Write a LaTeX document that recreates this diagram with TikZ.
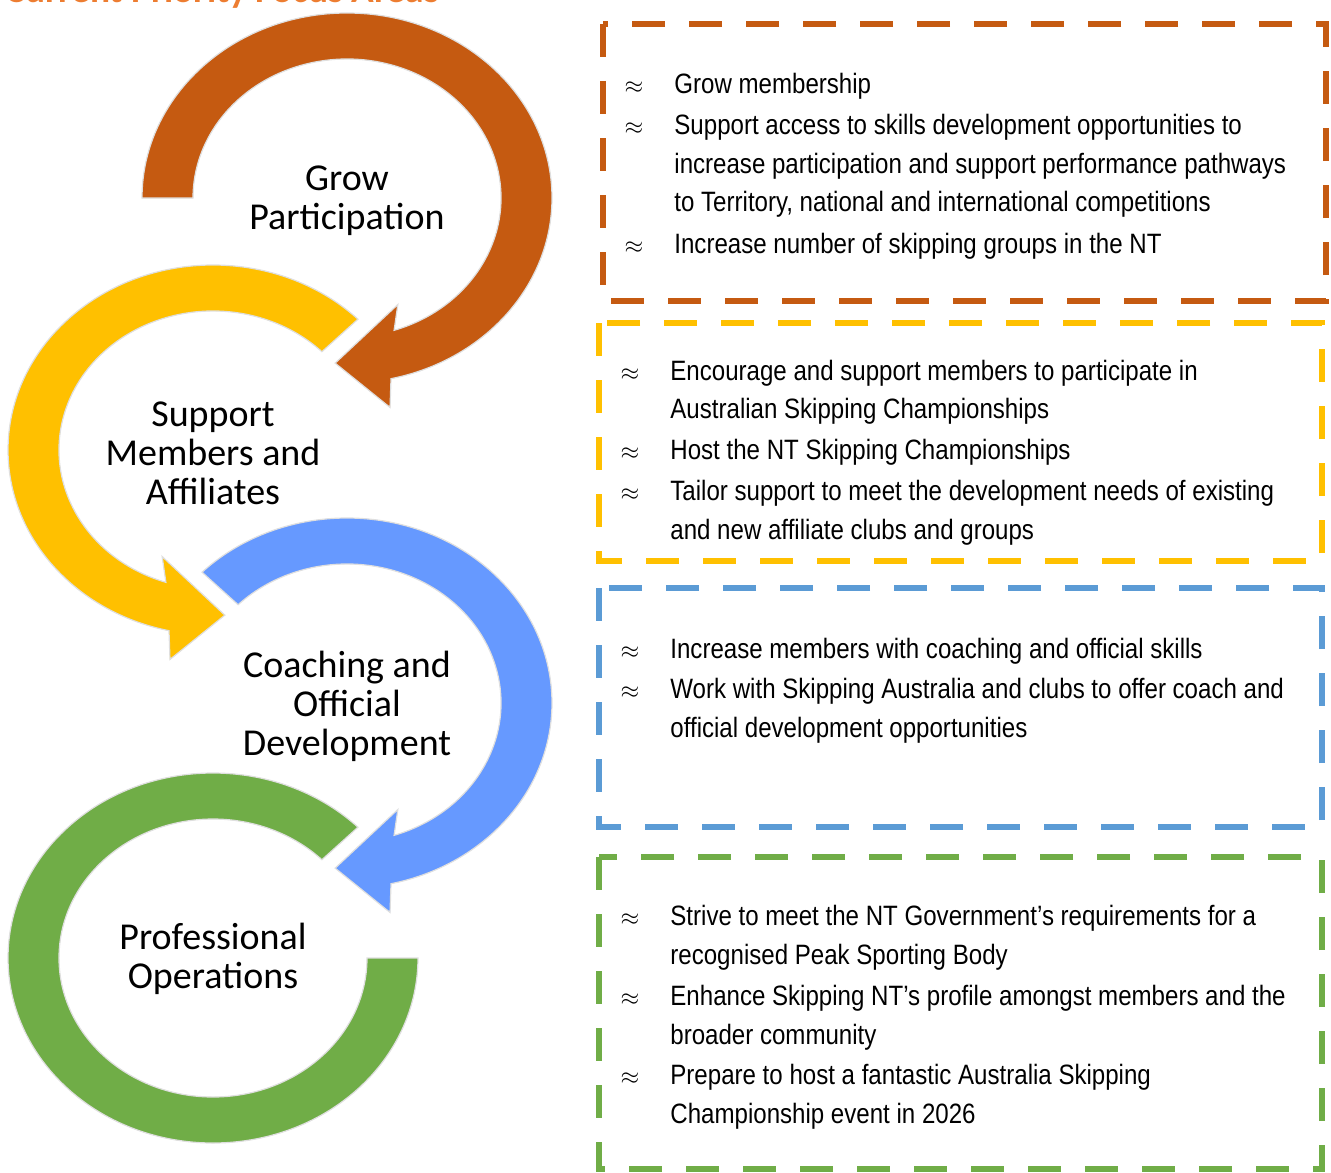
\documentclass[tikz,border=0pt]{standalone}
\usepackage{fontspec}
\setmainfont{Carlito}
\newfontfamily\narrow[FakeStretch=0.86]{Liberation Sans}

\definecolor{growclr}{HTML}{C55A11}
\definecolor{supportclr}{HTML}{FFC000}
\definecolor{coachclr}{HTML}{6699FF}
\definecolor{coachbox}{HTML}{5B9BD5}
\definecolor{opsclr}{HTML}{70AD47}
\definecolor{titleclr}{HTML}{ED7D31}

\begin{document}
\begin{tikzpicture}[x=0.5pt, y=0.5pt,
  ring/.style={draw=gray!25, line width=0.6pt},
  area/.style={line width=3pt, dash pattern=on 16.5pt off 12pt},
  focus/.style={font=\fontsize{19}{19.5}\selectfont, align=center},
  item/.style={font=\narrow\fontsize{14}{19.5}\selectfont, anchor=base west, inner sep=0},
  bul/.style={font=\fontsize{12.5}{14}\selectfont, anchor=base, inner sep=0}]
  \useasboundingbox (0,0) rectangle (1331,-1172);

  \node[font=\bfseries\fontsize{18.7}{20}\selectfont, text=titleclr, anchor=base west, inner sep=0] (title) at (5,-3) {Current Priority Focus Areas};

  % circular arrows
  \begin{scope}[shift={(213,-450)}, xscale=1.108]
    \fill[supportclr, ring] (45:185) arc[start angle=45, end angle=257.6, radius=185]
      -- (259.5:213) -- (273.7:165.5) -- (246.7:116) -- (252.2:139)
      arc[start angle=252.2, end angle=45, radius=139] -- cycle;
  \end{scope}
  \begin{scope}[shift={(347,-198)}, xscale=1.108]
    \fill[growclr, ring] (180:185) arc[start angle=180, end angle=-77.6, radius=185]
      -- (-79.5:213) -- (-93.7:165.5) -- (-66.7:116) -- (-72.2:139)
      arc[start angle=-72.2, end angle=180, radius=139] -- cycle;
  \end{scope}
  \begin{scope}[shift={(213,-958)}, xscale=1.108]
    \fill[opsclr, ring] (45:185) arc[start angle=45, end angle=360, radius=185]
      -- (0:139) arc[start angle=360, end angle=45, radius=139] -- cycle;
  \end{scope}
  \begin{scope}[shift={(347,-703)}, xscale=1.108]
    \fill[coachclr, ring] (135:185) arc[start angle=135, end angle=-77.6, radius=185]
      -- (-79.5:213) -- (-93.7:165.5) -- (-66.7:116) -- (-72.2:139)
      arc[start angle=-72.2, end angle=135, radius=139] -- cycle;
  \end{scope}

  \node[focus] (grow) at (347,-201) {Grow\\Participation};
  \node[focus] (support) at (213,-453) {Support\\Members and\\Affiliates};
  \node[focus] (coach) at (347,-706) {Coaching and\\Official\\Development};
  \node[focus] (ops) at (213,-959) {Professional\\Operations};

  % dashed boxes
  \draw[area, growclr] (603,-24) rectangle (1326,-301);
  \draw[area, supportclr] (599,-323) rectangle (1322,-561);
  \draw[area, coachbox] (599,-588) rectangle (1322,-827);
  \draw[area, opsclr] (599,-857) rectangle (1322,-1169);

  % box texts
  \foreach \y/\t in {94/Grow membership,
      134/Support access to skills development opportunities to,
      173/increase participation and support performance pathways,
      211/{to Territory, national and international competitions},
      253/Increase number of skipping groups in the NT}
    \node[item] (grow-\y) at (674,-\y) {\t};
  \foreach \y in {94,134,253}
    \node[bul] (growb-\y) at (634,-\y) {$\approx$};

  \foreach \y/\t in {380/Encourage and support members to participate in,
      418/Australian Skipping Championships,
      459/Host the NT Skipping Championships,
      500/Tailor support to meet the development needs of existing,
      539/and new affiliate clubs and groups}
    \node[item] (support-\y) at (670,-\y) {\t};
  \foreach \y in {380,459,500}
    \node[bul] (supportb-\y) at (630,-\y) {$\approx$};

  \foreach \y/\t in {658/Increase members with coaching and official skills,
      698/Work with Skipping Australia and clubs to offer coach and,
      737/official development opportunities}
    \node[item] (coach-\y) at (670,-\y) {\t};
  \foreach \y in {658,698}
    \node[bul] (coachb-\y) at (630,-\y) {$\approx$};

  \foreach \y/\t in {925/Strive to meet the NT Government’s requirements for a,
      964/recognised Peak Sporting Body,
      1005/Enhance Skipping NT’s profile amongst members and the,
      1044/broader community,
      1084/Prepare to host a fantastic Australia Skipping,
      1123/Championship event in 2026}
    \node[item] (ops-\y) at (670,-\y) {\t};
  \foreach \y in {925,1005,1084}
    \node[bul] (opsb-\y) at (630,-\y) {$\approx$};
\end{tikzpicture}
\end{document}
